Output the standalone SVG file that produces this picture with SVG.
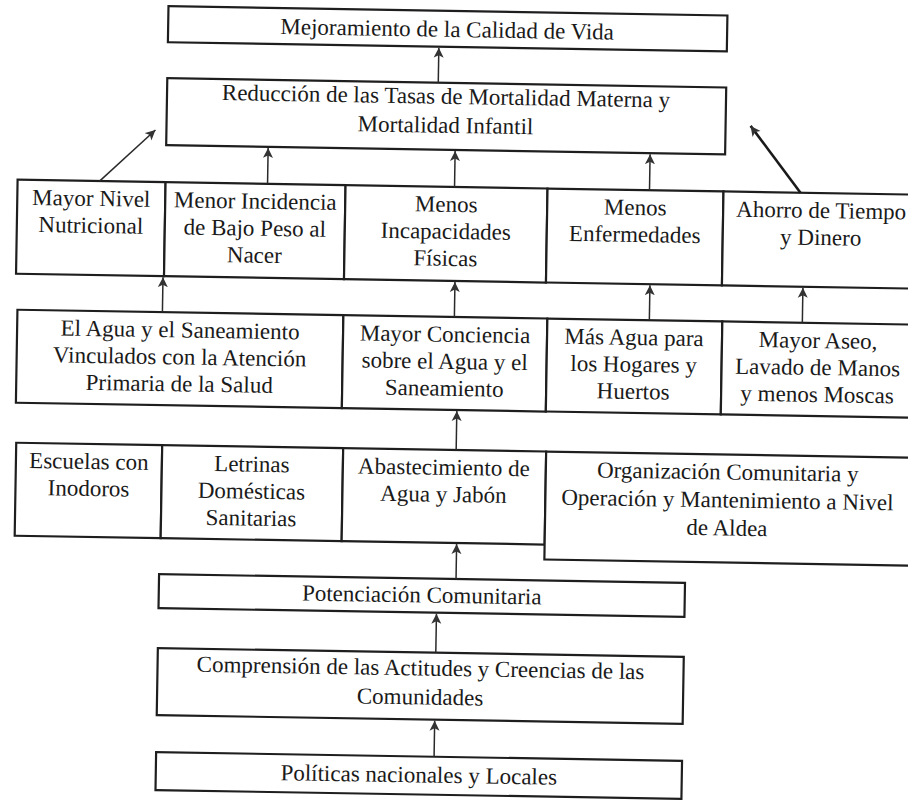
<svg xmlns="http://www.w3.org/2000/svg" width="908" height="801" viewBox="0 0 908 801">
<style>
.b{fill:#fff;stroke:#1e1e1e;stroke-width:2.2}
text{font-family:'Liberation Serif','DejaVu Serif','Times New Roman',serif;font-size:23px;fill:#1a1a1a;text-anchor:middle}
.c{stroke:#2a2a2a;stroke-width:1.5;fill:none;marker-end:url(#ah)}
.c2{stroke:#1a1a1a;stroke-width:2.6;fill:none;marker-end:url(#ah)}
</style>
<defs>
<marker id="ah" markerWidth="12" markerHeight="12" refX="10" refY="5.5" orient="auto" markerUnits="userSpaceOnUse">
<path d="M0,0.5 L10,5.5 L0,10.5 L2.5,5.5 z" fill="#333"/>
</marker>
</defs>
<rect width="908" height="801" fill="#fff"/>
<g transform="rotate(0.95 454 400)" font-family="Liberation Serif, DejaVu Serif, serif">
<g id="n-mejoramiento"><rect class="b" x="162" y="11" width="559" height="36"/><text x="441" y="37">Mejoramiento de la Calidad de Vida</text></g>
<g id="n-reduccion"><rect class="b" x="162" y="83" width="559" height="67"/><text x="441" y="104">Reducción de las Tasas de Mortalidad Materna y</text><text x="441" y="133">Mortalidad Infantil</text></g>

<g id="n-nutricional"><rect class="b" x="14" y="187" width="148" height="94"/><text x="88" y="212">Mayor Nivel</text><text x="88" y="239">Nutricional</text></g>
<g id="n-bajopeso"><rect class="b" x="162" y="187" width="180" height="94"/><text x="252" y="212">Menor Incidencia</text><text x="252" y="239">de Bajo Peso al</text><text x="252" y="266">Nacer</text></g>
<g id="n-incapacidades"><rect class="b" x="342" y="187" width="202" height="94"/><text x="443" y="212">Menos</text><text x="443" y="239">Incapacidades</text><text x="443" y="266">Físicas</text></g>
<g id="n-enfermedades"><rect class="b" x="544" y="187" width="176" height="94"/><text x="632" y="212">Menos</text><text x="632" y="239">Enfermedades</text></g>
<g id="n-ahorro"><rect class="b" x="720" y="187" width="195" height="94"/><text x="818" y="212">Ahorro de Tiempo</text><text x="818" y="239">y Dinero</text></g>

<g id="n-aps"><rect class="b" x="16" y="317" width="326" height="93"/><text x="179" y="342">El Agua y el Saneamiento</text><text x="179" y="369">Vinculados con la Atención</text><text x="179" y="396">Primaria de la Salud</text></g>
<g id="n-conciencia"><rect class="b" x="342" y="317" width="204" height="93"/><text x="444" y="342">Mayor Conciencia</text><text x="444" y="369">sobre el Agua y el</text><text x="444" y="396">Saneamiento</text></g>
<g id="n-masagua"><rect class="b" x="546" y="317" width="175" height="93"/><text x="633" y="342">Más Agua para</text><text x="633" y="369">los Hogares y</text><text x="633" y="396">Huertos</text></g>
<g id="n-aseo"><rect class="b" x="721" y="317" width="195" height="93"/><text x="817" y="342">Mayor Aseo,</text><text x="817" y="369">Lavado de Manos</text><text x="817" y="396">y menos Moscas</text></g>

<g id="n-escuelas"><rect class="b" x="17" y="450" width="146" height="93"/><text x="90" y="475">Escuelas con</text><text x="90" y="502">Inodoros</text></g>
<g id="n-letrinas"><rect class="b" x="163" y="450" width="181" height="93"/><text x="253" y="475">Letrinas</text><text x="253" y="502">Domésticas</text><text x="253" y="529">Sanitarias</text></g>
<g id="n-abastecimiento"><rect class="b" x="344" y="450" width="203" height="93"/><text x="445" y="475">Abastecimiento de</text><text x="445" y="502">Agua y Jabón</text></g>
<g id="n-organizacion"><rect class="b" x="547" y="450" width="368" height="108"/><text x="729" y="475">Organización Comunitaria y</text><text x="729" y="503">Operación y Mantenimiento a Nivel</text><text x="729" y="531">de Aldea</text></g>

<g id="n-potenciacion"><rect class="b" x="162" y="579" width="526" height="34"/><text x="425" y="603">Potenciación Comunitaria</text></g>
<g id="n-comprension"><rect class="b" x="162" y="653" width="526" height="67"/><text x="425" y="676">Comprensión de las Actitudes y Creencias de las</text><text x="425" y="705">Comunidades</text></g>
<g id="n-politicas"><rect class="b" x="162" y="757" width="526" height="38"/><text x="425" y="783">Políticas nacionales y Locales</text></g>

<g id="connectors">
<path class="c" d="M433,83 L433,48"/>
<path class="c" d="M96,187 L151,135"/>
<path class="c" d="M264,187 L264,151"/>
<path class="c" d="M451,187 L451,151"/>
<path class="c" d="M646,187 L646,151"/>
<path class="c2" d="M797,187 L746,121"/>
<path class="c" d="M161,317 L161,282"/>
<path class="c" d="M453,317 L453,282"/>
<path class="c" d="M648,317 L648,282"/>
<path class="c" d="M801,317 L801,282"/>
<path class="c" d="M457,450 L457,411"/>
<path class="c" d="M459,579 L459,544"/>
<path class="c" d="M440,653 L440,614"/>
<path class="c" d="M440,757 L440,721"/>
</g>
</g>
</svg>
